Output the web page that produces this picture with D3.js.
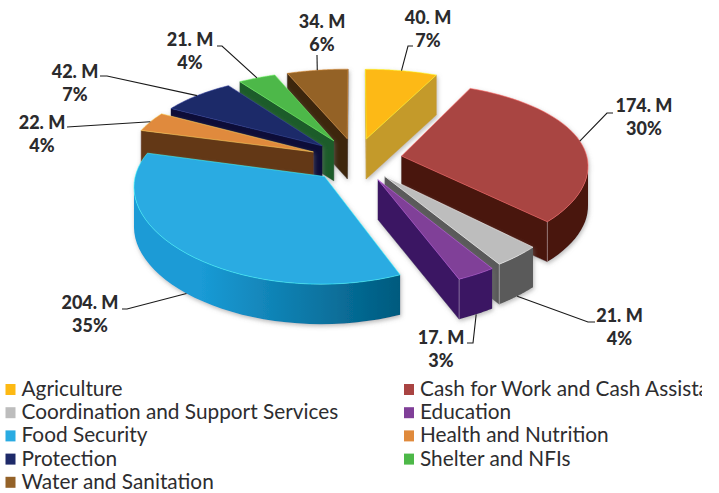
<!DOCTYPE html>
<html>
<head>
<meta charset="utf-8">
<script src="https://cdn.jsdelivr.net/npm/d3@7"></script>
<style>
body { margin: 0; background: #fff; }
svg { display: block; }
</style>
</head>
<body>
<div id="chart"></div>
<script>
// chart values
const sectors = ["Agriculture", "Cash for Work and Cash Assistance", "Coordination and Support Services", "Education", "Food Security", "Health and Nutrition", "Protection", "Shelter and NFIs", "Water and Sanitation"];
const funding = [40, 174, 21, 17, 204, 22, 42, 21, 34];
const valueLabels = ["40. M", "174. M", "21. M", "17. M", "204. M", "22. M", "42. M", "21. M", "34. M"];
const percentLabels = ["7%", "30%", "4%", "3%", "35%", "4%", "7%", "4%", "6%"];

// colours of the top faces and of the walls
const topColors = ["#fdb913", "#a94442", "#bdbdbd", "#803f98", "#29abe2", "#e08a3c", "#1e2a69", "#4db848", "#946228"];
const wallColors = ["#c49a2c", "#4a1510", "#5a5a5a", "#3b1563", "#1a9bd6", "#643716", "#0b1038", "#1e5b2a", "#3e2810"];
const wallDark = ["#c49a2c", "#4a1510", "#5a5a5a", "#3b1563", "#005a7e", "#643716", "#0b1038", "#1e5b2a", "#3e2810"];

// pull of every slice away from the centre, in disc radii
const explode = [0.26, 0.25, 0.24, 0.25, 0.25, 0.25, 0.25, 0.26, 0.26];

// label baseline, and the leader's two points next to the label
const labelAt = [[428, 24], [644, 112], [619.5, 322], [441, 344], [90, 309], [42, 129], [75, 78], [190, 46], [322, 28]];
const leaderEnd = [[413, 46], [613, 113], [595, 322], [467, 343], [122, 309], [67, 127], [100, 76], [217, 46], [317, 55]];
const leaderBend = [[408, 46], [607, 113], [588, 322], [473, 343], [127, 309], [67, 127], [107, 76], [222, 46], [317, 55]];

const W = 719, H = 493;
const cx = 356, cy = 160, sx = 186, sy = 86, perspX = 0.095, perspY = 0.15, depth = 40;

const svg = d3.select("#chart").append("svg").attr("width", W).attr("height", H);

const defs = svg.append("defs");
const shadow = defs.append("filter").attr("id", "halo")
    .attr("x", "-20%").attr("y", "-20%").attr("width", "140%").attr("height", "140%");
shadow.append("feDropShadow").attr("dx", 1).attr("dy", 2).attr("stdDeviation", 2)
    .attr("flood-color", "#777").attr("flood-opacity", 0.5);
defs.append("clipPath").attr("id", "page-edge").append("rect").attr("width", 702).attr("height", H);

// d3.pie gives the angles, clockwise from the back of the disc
const pie = d3.pie().sort(null)(funding);
const steps = 40;

// disc plane -> screen, near things get bigger
function project(px, py, drop) {
    return [cx + sx * px / (1 - perspX * py), cy + sy * py / (1 - perspY * py) + (drop || 0)];
}

function slicePoints(d, i) {
    let mid = (d.startAngle + d.endAngle) / 2;
    let ox = explode[i] * Math.sin(mid), oy = -explode[i] * Math.cos(mid);
    let rim = d3.range(0, steps + 1).map(function(s) {
        let a = d.startAngle + (d.endAngle - d.startAngle) * s / steps;
        return [ox + Math.sin(a), oy - Math.cos(a)];
    });
    return {apex: [ox, oy], rim: rim};
}

function quad(a, b) {
    return [project(a[0], a[1]), project(b[0], b[1]), project(b[0], b[1], depth), project(a[0], a[1], depth)];
}

const line = d3.line();
const order = d3.range(pie.length).sort(function(a, b) {
    let ma = (pie[a].startAngle + pie[a].endAngle) / 2;
    let mb = (pie[b].startAngle + pie[b].endAngle) / 2;
    return Math.cos(mb) - Math.cos(ma);
});

const plot = svg.append("g");

order.forEach(function(i) {
    let d = pie[i], p = slicePoints(d, i);
    let g = plot.append("g").attr("filter", "url(#halo)");
    let corners = [];

    // radial walls, only the ones turned towards the viewer
    [[p.apex, p.rim[0]], [p.rim[steps], p.apex]].forEach(function(e, k) {
        let q = quad(e[0], e[1]);
        if (d3.polygonArea(q) > 0) {
            g.append("path").attr("d", line(q) + "Z")
                .attr("fill", wallColors[i]).attr("stroke", wallColors[i]).attr("stroke-width", 0.4);
            corners.push(k ? p.rim[steps] : p.rim[0]);
        }
    });

    // outer wall, only the visible stretch of the rim
    let front = d3.range(steps).filter(function(s) {
        return d3.polygonArea(quad(p.rim[s], p.rim[s + 1])) > 0;
    });
    if (front.length) {
        let stretch = p.rim.slice(front[0], front[front.length - 1] + 2);
        let upper = stretch.map(function(m) { return project(m[0], m[1]); });
        let lower = stretch.map(function(m) { return project(m[0], m[1], depth); }).reverse();
        let grad = defs.append("linearGradient").attr("id", "wall" + i);
        grad.append("stop").attr("offset", "25%").attr("stop-color", wallColors[i]);
        grad.append("stop").attr("offset", "100%").attr("stop-color", wallDark[i]);
        g.append("path").attr("d", line(upper.concat(lower)) + "Z").attr("fill", `url(#wall${i})`);
    }

    // top face
    let outline = [p.apex].concat(p.rim).map(function(m) { return project(m[0], m[1]); });
    g.append("path").attr("d", line(outline) + "Z")
        .attr("fill", topColors[i])
        .attr("stroke", d3.color(topColors[i]).brighter(1.2))
        .attr("stroke-opacity", 0.7).attr("stroke-width", 0.8);

    // light edge where a radial wall meets the outer wall, front slices only
    if (Math.cos((d.startAngle + d.endAngle) / 2) < 0.3) {
        corners.forEach(function(m) {
            g.append("path").attr("d", line([project(m[0], m[1]), project(m[0], m[1], depth)]))
                .attr("stroke", "#fff").attr("stroke-opacity", 0.45).attr("stroke-width", 0.8);
        });
    }
});

// leader lines: from the label to the rim of the slice
const leaders = svg.append("g").attr("fill", "none").attr("stroke", "#1a1a1a").attr("stroke-width", 1.1);
pie.forEach(function(d, i) {
    let mid = slicePoints(d, i).rim[steps / 2];
    let drop = Math.cos((d.startAngle + d.endAngle) / 2) < -0.3 ? depth : 0;
    leaders.append("path").attr("d", line([leaderEnd[i], leaderBend[i], project(mid[0], mid[1], drop)]));
});

// value labels
const labels = svg.append("g").attr("font-family", "Lato, sans-serif").attr("font-weight", 900)
    .attr("font-size", 18).attr("fill", "#2b2b2d").attr("text-anchor", "middle");
pie.forEach(function(d, i) {
    labels.append("text").attr("x", labelAt[i][0]).attr("y", labelAt[i][1]).text(valueLabels[i]);
    labels.append("text").attr("x", labelAt[i][0]).attr("y", labelAt[i][1] + 22.5).text(percentLabels[i]);
});

// legend, two columns filled row by row, cut at the edge of the page like the source
const col = d3.scaleOrdinal().domain([0, 1]).range([5.5, 404]);
const row = d3.scaleBand().domain(d3.range(5)).range([378, 494]);
const legend = svg.append("g").attr("clip-path", "url(#page-edge)")
    .attr("font-family", "Lato, sans-serif").attr("font-size", 20.8).attr("fill", "#2d2d2f");
sectors.forEach(function(name, i) {
    let g = legend.append("g").attr("transform", `translate(${col(i % 2)},${row(Math.floor(i / 2))})`);
    g.append("rect").attr("y", 6).attr("width", 10).attr("height", 11).attr("fill", topColors[i]);
    g.append("text").attr("x", 16).attr("y", 18).text(name);
});
</script>
</body>
</html>
